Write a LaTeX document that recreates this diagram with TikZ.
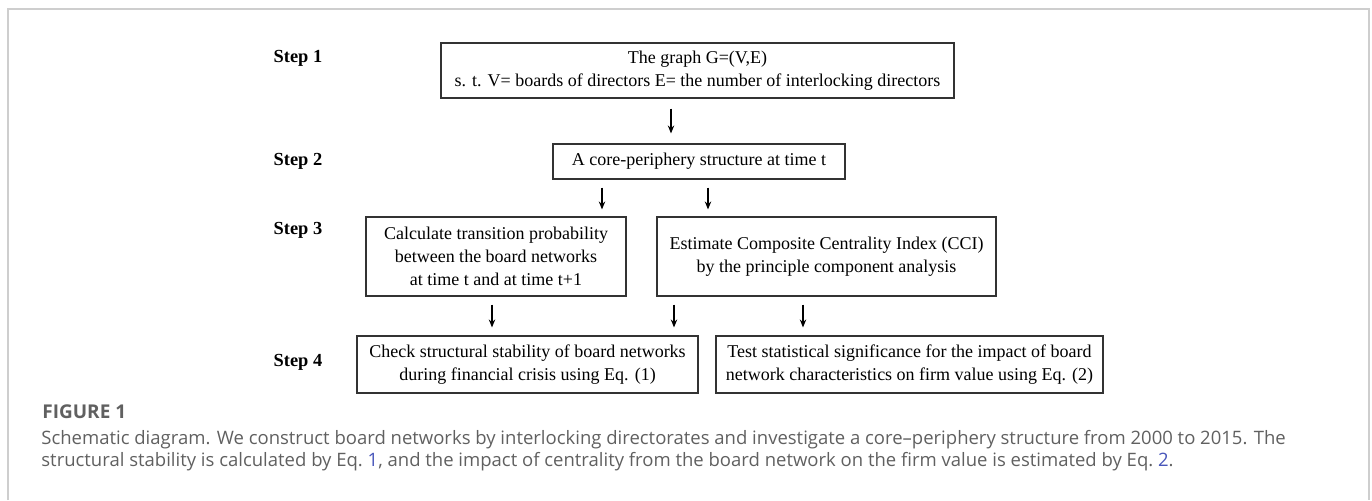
\documentclass[tikz,border=0pt]{standalone}
\usepackage{fontspec}
\setmainfont{Liberation Serif}
\newfontfamily\capfont{Open Sans}
\usetikzlibrary{arrows.meta}
\definecolor{framegrey}{RGB}{206,206,206}
\definecolor{capgrey}{RGB}{96,96,96}
\definecolor{eqlink}{RGB}{72,86,186}

\begin{document}
\begin{tikzpicture}[x=0.5pt,y=-0.5pt,
    box/.style={draw=black!80, line width=0.55pt, align=center, inner sep=0pt,
        font=\fontsize{9}{11.5}\selectfont},
    steplabel/.style={font=\fontsize{9.2}{11}\selectfont\bfseries},
    arr/.style={-{Stealth[length=4pt,width=3.2pt]}, line width=0.6pt}]
    \useasboundingbox (0,0) rectangle (1372,500);

    % Card frame (open at the bottom)
    \draw[framegrey, line width=1pt] (8,500) -- (8,9) -- (1369,9) -- (1369,500);

    % Step labels
    \node[steplabel] (s1) at (298,58) {Step 1};
    \node[steplabel] (s2) at (298,161) {Step 2};
    \node[steplabel] (s3) at (298,230) {Step 3};
    \node[steplabel] (s4) at (298,362) {Step 4};

    % Boxes
    \node[box, minimum width=256.5pt, minimum height=27.5pt] (graph) at (697.5,70.5)
        {The graph G=(V,E)\\s. t. V= boards of directors E= the number of interlocking directors};
    \node[box, minimum width=146pt, minimum height=17.5pt] (core) at (699,161.5)
        {A core-periphery structure at time t};
    \node[box, minimum width=130pt, minimum height=39.5pt] (trans) at (496,256.5)
        {Calculate transition probability\\between the board networks\\at time t and at time t+1};
    \node[box, minimum width=169.5pt, minimum height=39.5pt] (cci) at (826.5,256.5)
        {Estimate Composite Centrality Index (CCI)\\by the principle component analysis};
    \node[box, minimum width=170.5pt, minimum height=28.5pt] (stab) at (527.5,364.5)
        {Check structural stability of board networks\\during financial crisis using Eq. (1)};
    \node[box, minimum width=193.5pt, minimum height=28.5pt] (signif) at (909.5,364.5)
        {Test statistical significance for the impact of board\\network characteristics on firm value using Eq. (2)};

    % Arrow columns
    \coordinate (c1) at (671,0);
    \coordinate (c2) at (602,0);
    \coordinate (c3) at (708,0);
    \coordinate (c4) at (492,0);
    \coordinate (c5) at (674,0);
    \coordinate (c6) at (803,0);

    \draw[arr] ([yshift=-5pt]graph.south -| c1) -- ([yshift=5pt]core.north -| c1);
    \draw[arr] ([yshift=-4pt]core.south -| c2) -- ([yshift=3.5pt]trans.north -| c2);
    \draw[arr] ([yshift=-4pt]core.south -| c3) -- ([yshift=3.5pt]cci.north -| c3);
    \draw[arr] ([yshift=-4pt]trans.south -| c4) -- ([yshift=4pt]stab.north -| c4);
    \draw[arr] ([yshift=-4pt]cci.south -| c5) -- ([yshift=4pt]stab.north -| c5);
    \draw[arr] ([yshift=-4pt]cci.south -| c6) -- ([yshift=4pt]signif.north -| c6);

    % Caption
    \node[anchor=west, inner sep=0pt, text=capgrey,
        font=\capfont\fontsize{9.5}{12}\selectfont\bfseries] (figno) at (42,412) {FIGURE 1};
    \node[anchor=north west, inner sep=0pt, align=left, text=capgrey,
        font=\capfont\fontsize{9.25}{11}\selectfont] (caption) at (41,430)
        {Schematic diagram. We construct board networks by interlocking directorates and investigate a core–periphery structure from 2000 to 2015. The\\
         structural stability is calculated by Eq.~\textcolor{eqlink}{1}, and the impact of centrality from the board network on the firm value is estimated by Eq.~\textcolor{eqlink}{2}.};
\end{tikzpicture}
\end{document}
